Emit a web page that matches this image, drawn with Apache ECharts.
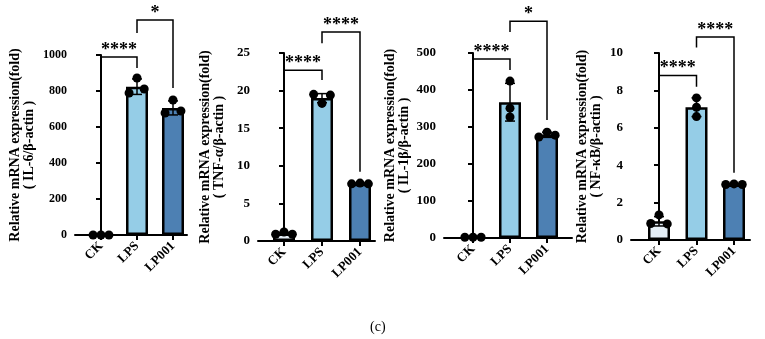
<!DOCTYPE html>
<html lang="en">
<head>
<meta charset="UTF-8">
<title>Relative mRNA expression</title>
<script src="https://cdn.jsdelivr.net/npm/echarts@6/dist/echarts.min.js"></script>
<style>
    html, body { margin: 0; padding: 0; background: #fff; }
    #main { width: 765px; height: 339px; }
</style>
</head>
<body>
<div id="main"></div>
<script>
// groups on the x axis
var groups = ['CK', 'LPS', 'LP001'];
var barColors = ['#e4eef6', '#95cde7', '#4d80b3'];

// axis titles
var yNames = [
    'Relative mRNA expression(fold)\n( IL-6/β-actin )',
    'Relative mRNA expression(fold)\n( TNF-α/β-actin )',
    'Relative mRNA expression(fold)\n( IL-1β/β-actin )',
    'Relative mRNA expression(fold)\n( NF-κB/β-actin )'
];

// y ticks: min, max, step
var il6Ticks = [0, 1000, 200];
var tnfTicks = [0, 25, 5];
var il1bTicks = [0, 500, 100];
var nfkbTicks = [0, 10, 2];

// bar heights (mean) for CK, LPS, LP001
var il6Mean = [0, 824, 706];
var tnfMean = [1.0, 19.0, 7.6];
var il1bMean = [2, 367, 279];
var nfkbMean = [1.0, 7.1, 2.97];

// error bars (SD)
var il6Sd = [2, 43, 39];
var tnfSd = [0.15, 0.6, 0.1];
var il1bSd = [1, 51, 7];
var nfkbSd = [0.25, 0.5, 0.04];

// replicate dots
var il6Dots = [[0, 0, 0], [872, 789, 811], [750, 678, 689]];
var tnfDots = [[0.9, 1.2, 0.9], [19.5, 18.3, 19.4], [7.6, 7.7, 7.6]];
var il1bDots = [[2, 2, 2], [424, 351, 327], [273, 286, 278]];
var nfkbDots = [[0.88, 1.34, 0.86], [7.6, 7.1, 6.6], [2.97, 3.0, 2.97]];

// significance brackets: [from, to, left leg end, top, right leg end]
var il6Sig = [[0, 1, 83, 989, 928], [1, 2, 1122, 1194, 817]];
var tnfSig = [[0, 1, 2.8, 22.7, 21.4], [1, 2, 26.3, 27.8, 9.2]];
var il1bSig = [[0, 1, 30, 484, 454], [1, 2, 557, 586, 319]];
var nfkbSig = [[0, 1, 2.0, 8.8, 8.2], [1, 2, 10.3, 10.85, 3.6]];
var il6Stars = ['****', '*'];
var tnfStars = ['****', '****'];
var il1bStars = ['****', '*'];
var nfkbStars = ['****', '****'];

// horizontal spread of the dots (category units)
var il6Spread = [[-0.22, 0, 0.22], [0, -0.22, 0.2], [0, -0.22, 0.22]];
var tnfSpread = [[-0.22, 0, 0.22], [-0.22, 0, 0.22], [-0.22, 0, 0.22]];
var il1bSpread = [[-0.22, 0, 0.22], [0, 0, 0], [-0.22, 0, 0.22]];
var nfkbSpread = [[-0.22, 0, 0.22], [0, 0, 0], [-0.22, 0, 0.22]];

var panels = [
    {ticks: il6Ticks, mean: il6Mean, sd: il6Sd, dots: il6Dots, sig: il6Sig, stars: il6Stars, spread: il6Spread,
        left: 75, top: 55, width: 112, height: 180, c0: 101, step: 36, nameGap: 39, tickSize: 12},
    {ticks: tnfTicks, mean: tnfMean, sd: tnfSd, dots: tnfDots, sig: tnfSig, stars: tnfStars, spread: tnfSpread,
        left: 258, top: 53, width: 117, height: 188, c0: 284, step: 38, nameGap: 32, tickSize: 13},
    {ticks: il1bTicks, mean: il1bMean, sd: il1bSd, dots: il1bDots, sig: il1bSig, stars: il1bStars, spread: il1bSpread,
        left: 444, top: 53, width: 128, height: 185, c0: 473, step: 37, nameGap: 33, tickSize: 13},
    {ticks: nfkbTicks, mean: nfkbMean, sd: nfkbSd, dots: nfkbDots, sig: nfkbSig, stars: nfkbStars, spread: nfkbSpread,
        left: 631, top: 53, width: 119, height: 187, c0: 659, step: 37.5, nameGap: 28, tickSize: 13}
];

var serif = '"Liberation Serif", "Times New Roman", serif';
var myChart = echarts.init(document.getElementById('main'));

var grids = [], xAxes = [], yAxes = [], series = [];

panels.forEach(function (p, k) {
    grids.push({left: p.left, top: p.top, width: p.width, height: p.height});

    xAxes.push({
        type: 'value',
        gridIndex: k,
        min: (p.left - p.c0) / p.step,
        max: (p.left + p.width - p.c0) / p.step,
        splitLine: {show: false},
        axisLine: {lineStyle: {color: '#000', width: 2}},
        axisTick: {show: true, customValues: [0, 1, 2], length: 5, lineStyle: {color: '#000', width: 2}},
        axisLabel: {
            customValues: [0, 1, 2],
            rotate: 45,
            margin: 9,
            color: '#000',
            fontFamily: serif,
            fontWeight: 'bold',
            fontSize: 13,
            formatter: function (v) { return groups[Math.round(v)]; }
        }
    });

    yAxes.push({
        type: 'value',
        gridIndex: k,
        min: p.ticks[0],
        max: p.ticks[1],
        interval: p.ticks[2],
        name: yNames[k],
        nameLocation: 'middle',
        nameRotate: 90,
        nameGap: p.nameGap,
        nameMoveOverlap: false,
        nameTextStyle: {color: '#000', fontFamily: serif, fontWeight: 'bold', fontSize: 14, lineHeight: 14},
        splitLine: {show: false},
        axisLine: {show: true, lineStyle: {color: '#000', width: 2}},
        axisTick: {show: true, length: 5, lineStyle: {color: '#000', width: 2}},
        axisLabel: {color: '#000', fontFamily: serif, fontWeight: 'bold', fontSize: p.tickSize, margin: 8,
            formatter: function (v) { return String(v); }}
    });

    // bars
    series.push({
        type: 'bar',
        xAxisIndex: k,
        yAxisIndex: k,
        barWidth: 22,
        z: 2,
        data: p.mean.map(function (v, i) {
            return {value: [i, v], itemStyle: {color: barColors[i], borderColor: '#000', borderWidth: 2.5}};
        })
    });

    // error bars
    series.push({
        type: 'custom',
        xAxisIndex: k,
        yAxisIndex: k,
        z: 3,
        encode: {x: 0, y: [1, 2]},
        data: p.mean.map(function (v, i) { return [i, v - p.sd[i], v + p.sd[i]]; }),
        renderItem: function (params, api) {
            var lo = api.coord([api.value(0), api.value(1)]);
            var hi = api.coord([api.value(0), api.value(2)]);
            var st = {stroke: '#000', lineWidth: 1.5};
            return {type: 'group', children: [
                {type: 'line', shape: {x1: lo[0], y1: lo[1], x2: hi[0], y2: hi[1]}, style: st},
                {type: 'line', shape: {x1: hi[0] - 5, y1: hi[1], x2: hi[0] + 5, y2: hi[1]}, style: st},
                {type: 'line', shape: {x1: lo[0] - 5, y1: lo[1], x2: lo[0] + 5, y2: lo[1]}, style: st}
            ]};
        }
    });

    // replicate dots
    var pts = [];
    p.dots.forEach(function (arr, i) {
        arr.forEach(function (v, j) { pts.push([i + p.spread[i][j], v]); });
    });
    series.push({
        type: 'scatter',
        xAxisIndex: k,
        yAxisIndex: k,
        z: 4,
        clip: false,
        symbolSize: 9,
        itemStyle: {color: '#000', opacity: 1},
        data: pts
    });

    // significance brackets
    series.push({
        type: 'custom',
        xAxisIndex: k,
        yAxisIndex: k,
        z: 5,
        clip: false,
        encode: {x: [0, 1], y: [2, 3, 4]},
        data: p.sig,
        renderItem: function (params, api) {
            var a = api.coord([api.value(0), api.value(2)]);
            var t1 = api.coord([api.value(0), api.value(3)]);
            var t2 = api.coord([api.value(1), api.value(3)]);
            var b = api.coord([api.value(1), api.value(4)]);
            return {type: 'group', children: [
                {type: 'polyline', shape: {points: [a, t1, t2, b]},
                    style: {stroke: '#000', lineWidth: 1.5, fill: null}},
                {type: 'text', x: (t1[0] + t2[0]) / 2, y: t1[1] - 7,
                    style: {text: p.stars[params.dataIndex], fill: '#000', font: 'bold 18px ' + serif,
                        align: 'center', verticalAlign: 'middle'}}
            ]};
        }
    });
});

myChart.setOption({
    backgroundColor: '#ffffff',
    animation: false,
    graphic: [{
        type: 'text', left: 370, top: 320,
        style: {text: '(c)', fill: '#000', font: '14px ' + serif}
    }],
    grid: grids,
    xAxis: xAxes,
    yAxis: yAxes,
    series: series
});
</script>
</body>
</html>
